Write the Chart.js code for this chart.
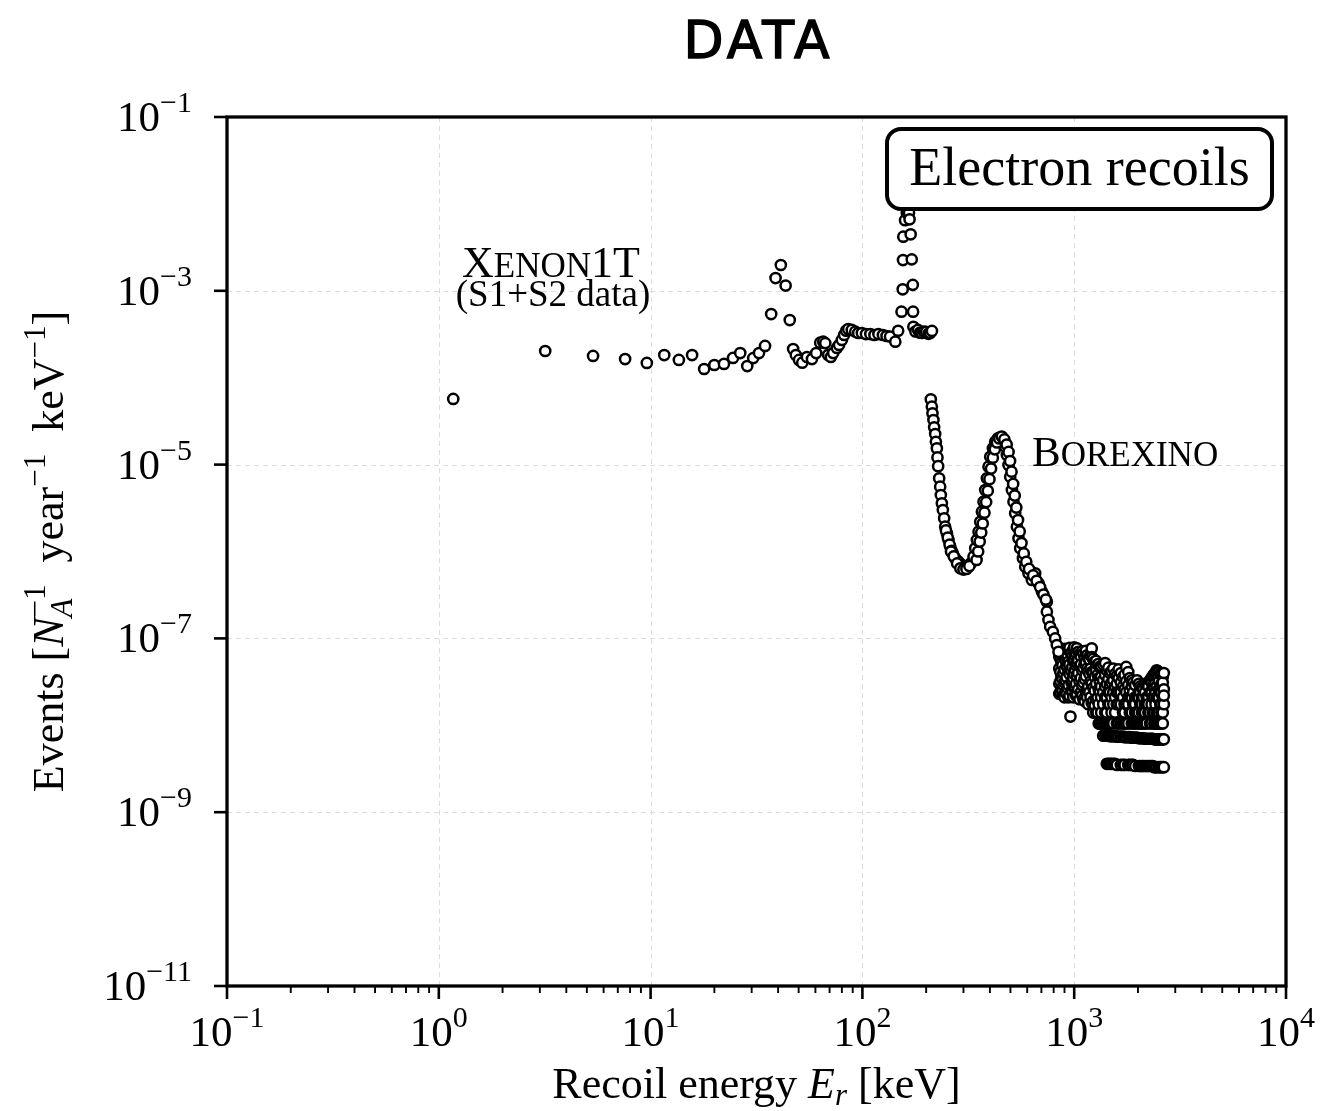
<!DOCTYPE html>
<html>
<head>
<meta charset="utf-8">
<script src="https://cdn.jsdelivr.net/npm/chart.js@4.4.0/dist/chart.umd.min.js"></script>
<style>
  html, body { margin: 0; padding: 0; background: #fff; }
</style>
</head>
<body>
<canvas id="spectrum" width="1322" height="1111"></canvas>
<script>
// XENON1T electron recoil spectrum (keV, events / N_A / year / keV)
const xenonE = [1.17, 3.18, 5.35, 7.58, 9.6, 11.6, 13.6, 15.7, 17.9, 20.0, 22.2, 24.5, 26.5, 28.6, 30.5,
    32.5, 34.7, 37.1, 38.9, 41.2, 43.4, 45.4, 47.1, 48.5, 50.2, 52.0, 54.7, 57.8, 60.5, 63.2, 65.3, 66.8,
    68.9, 71.0, 72.8, 75.8, 77.6, 80.0, 82.0, 83.8, 85.7, 89.1, 92.5, 95.5, 99.4, 104, 109, 114, 119, 125,
    130, 135, 143, 147.5, 153, 155, 155.5, 156, 159, 162, 164, 166, 167, 169, 171, 173, 173.5, 174, 178,
    183, 187, 191, 195, 200, 205, 209, 213];
const xenonRate = [5.7e-5, 2.03e-4, 1.78e-4, 1.64e-4, 1.48e-4, 1.82e-4, 1.60e-4, 1.82e-4, 1.26e-4, 1.40e-4,
    1.44e-4, 1.69e-4, 1.92e-4, 1.36e-4, 1.68e-4, 1.92e-4, 2.32e-4, 5.4e-4, 1.40e-3, 1.98e-3, 1.15e-3, 4.6e-4,
    2.14e-4, 1.82e-4, 1.60e-4, 1.49e-4, 1.73e-4, 1.64e-4, 1.92e-4, 2.53e-4, 2.60e-4, 2.50e-4, 1.82e-4, 1.73e-4,
    1.92e-4, 2.20e-4, 2.38e-4, 2.72e-4, 3.10e-4, 3.47e-4, 3.63e-4, 3.55e-4, 3.39e-4, 3.27e-4, 3.27e-4, 3.18e-4,
    3.18e-4, 3.10e-4, 3.18e-4, 3.10e-4, 3.02e-4, 2.97e-4, 2.60e-4, 3.47e-4, 5.75e-4, 1.04e-3, 2.26e-3, 4.2e-3,
    6.5e-3, 7.9e-3, 1.1e-2, 7.9e-3, 6.65e-3, 4.47e-3, 2.3e-3, 1.17e-3, 5.75e-4, 3.86e-4, 3.4e-4, 3.55e-4,
    3.3e-4, 3.27e-4, 3.4e-4, 3.36e-4, 3.2e-4, 3.27e-4, 3.45e-4];

// Borexino spectrum, main curve
const borexinoE = [210.4, 212.8, 214.2, 216.5, 218.2, 220.6, 222.3, 224.7, 226.2, 227.9, 230.4, 232.9, 234.6,
    237.2, 239.8, 243.2, 245.9, 250.5, 255.0, 259.7, 267.4, 274.2, 284.2, 295.0, 305.6, 316.8, 325.3, 334.6,
    340.9, 347.2, 353.4, 359.9, 366.6, 373.1, 380.0, 387.1, 393.9, 401.2, 413.1, 423.6, 436.2, 447.2, 460.5,
    472.2, 481.0, 489.5, 498.6, 507.9, 516.8, 526.5, 536.3, 545.7, 555.9, 572.5, 587.0, 608.4, 631.2, 654.4,
    678.4, 704.1, 743.1, 743, 756, 770, 793, 813, 828, 843];
const borexinoRate = [5.64e-5, 4.64e-5, 3.89e-5, 3.26e-5, 2.69e-5, 2.25e-5, 1.83e-5, 1.54e-5, 1.21e-5, 9.6e-6,
    6.96e-6, 5.57e-6, 4.47e-6, 3.59e-6, 3.0e-6, 2.41e-6, 1.93e-6, 1.62e-6, 1.36e-6, 1.14e-6, 9.5e-7, 8.35e-7,
    7.63e-7, 7.0e-7, 6.69e-7, 6.69e-7, 7.31e-7, 8.71e-7, 1.09e-6, 1.36e-6, 1.69e-6, 2.2e-6, 2.87e-6, 3.74e-6,
    5.1e-6, 6.96e-6, 9.46e-6, 1.23e-5, 1.54e-5, 1.83e-5, 2.01e-5, 2.06e-5, 1.92e-5, 1.61e-5, 1.29e-5, 9.9e-6,
    7.26e-6, 5.1e-6, 3.74e-6, 2.75e-6, 1.93e-6, 1.42e-6, 1.09e-6, 8.35e-7, 6.69e-7, 5.61e-7, 4.7e-7, 5.61e-7,
    4.3e-7, 3.45e-7, 2.64e-7, 2.03e-7, 1.63e-7, 1.36e-7, 1.19e-7, 1.0e-7, 8.4e-8, 7.0e-8];

// Borexino, overlapping points that thicken the band
const borexinoBandE = [248, 253, 258, 264, 262, 270, 280, 290, 300, 310, 320, 346, 352, 358, 364, 370, 377,
    384, 391, 398, 405, 413, 422, 432, 443, 455, 468, 480, 490, 498, 506, 515, 524, 533, 543, 553, 564, 578,
    594, 612, 640, 665, 690, 716, 735];
const borexinoBandRate = [1.75e-6, 1.45e-6, 1.2e-6, 1.02e-6, 1.0e-6, 8.8e-7, 7.3e-7, 6.4e-7, 6.2e-7, 6.3e-7,
    6.8e-7, 8.0e-7, 1.0e-6, 1.3e-6, 1.65e-6, 2.1e-6, 2.8e-6, 3.7e-6, 5.0e-6, 6.8e-6, 9.0e-6, 1.2e-5, 1.5e-5,
    1.8e-5, 2.0e-5, 2.1e-5, 1.95e-5, 1.7e-5, 1.4e-5, 1.1e-5, 8.3e-6, 6.0e-6, 4.4e-6, 3.2e-6, 2.3e-6, 1.7e-6,
    1.25e-6, 9.5e-7, 7.6e-7, 6.3e-7, 5.3e-7, 4.6e-7, 3.9e-7, 3.2e-7, 2.8e-7];

// Borexino high-energy tail: rates seen in each energy bin
const tailE = [850, 860, 870, 880, 890, 900, 910, 920, 930, 940, 950, 960, 970, 980, 990, 1000, 1010, 1020,
    1030, 1045, 1060, 1075, 1090, 1105, 1120, 1135, 1150, 1165, 1180, 1195, 1210, 1230, 1250, 1270, 1290,
    1305, 1320, 1340, 1370, 1400, 1425, 1450, 1475, 1500, 1530, 1560, 1590, 1620, 1660, 1700, 1730, 1760,
    1800, 1830, 1870, 1900, 1940, 1980, 2020, 2050, 2090, 2120, 2160, 2200, 2240, 2280, 2320, 2350, 2390,
    2420, 2450, 2480, 2510, 2550, 2580, 2620, 2650];
const tailRates = [
    [6.2e-8, 4.5e-8, 3.0e-8, 2.3e-8],
    [7.0e-8, 5.8e-8, 4.1e-8, 3.2e-8, 2.4e-8],
    [7.5e-8, 5.3e-8, 3.6e-8, 2.6e-8],
    [6.4e-8, 4.9e-8, 3.4e-8, 2.5e-8],
    [6.8e-8, 4.0e-8, 2.9e-8, 2.2e-8],
    [7.6e-8, 5.9e-8, 4.4e-8, 3.1e-8, 2.1e-8],
    [7.2e-8, 5.6e-8, 3.3e-8, 2.4e-8],
    [6.1e-8, 4.8e-8, 3.6e-8, 2.3e-8],
    [6.5e-8, 4.6e-8, 2.7e-8],
    [7.3e-8, 5.4e-8, 4.1e-8, 2.9e-8, 2.1e-8],
    [7.8e-8, 5.0e-8, 3.9e-8, 2.2e-8],
    [1.26e-8],
    [6.9e-8, 4.2e-8, 3.1e-8, 2.5e-8],
    [6.2e-8, 4.7e-8, 3.3e-8, 2.4e-8],
    [7.4e-8, 5.5e-8, 3.5e-8, 2.1e-8],
    [7.9e-8, 5.8e-8, 3.9e-8, 2.7e-8],
    [6.3e-8, 4.4e-8, 2.8e-8],
    [6.8e-8, 4.9e-8, 3.0e-8, 2.2e-8],
    [7.7e-8, 5.2e-8, 3.7e-8, 2.3e-8],
    [7.0e-8, 5.6e-8, 4.0e-8, 2.6e-8],
    [6.6e-8, 4.8e-8, 3.2e-8, 2.0e-8],
    [6.2e-8, 5.0e-8, 3.5e-8, 2.4e-8],
    [7.1e-8, 4.3e-8, 2.9e-8, 2.2e-8],
    [6.7e-8, 4.6e-8, 3.1e-8, 2.0e-8],
    [6.0e-8, 5.1e-8, 3.4e-8, 1.9e-8],
    [7.2e-8, 5.3e-8, 3.7e-8, 2.4e-8],
    [6.4e-8, 4.5e-8, 2.6e-8, 2.1e-8],
    [5.9e-8, 4.2e-8, 2.8e-8, 1.75e-8],
    [5.7e-8, 3.9e-8, 2.4e-8],
    [6.5e-8, 4.5e-8, 3.2e-8, 2.1e-8],
    [7.7e-8, 6.1e-8, 4.1e-8, 3.0e-8, 1.8e-8],
    [5.8e-8, 4.0e-8, 2.7e-8, 1.9e-8, 1.4e-8],
    [5.4e-8, 3.6e-8, 2.5e-8, 1.7e-8],
    [5.5e-8, 4.3e-8, 3.0e-8, 2.0e-8, 1.4e-8],
    [5.0e-8, 3.8e-8, 2.1e-8, 1.4e-8],
    [5.1e-8, 3.5e-8, 2.6e-8, 1.75e-8, 1.05e-8],
    [4.7e-8, 3.2e-8, 2.4e-8, 1.05e-8],
    [4.8e-8, 3.6e-8, 2.8e-8, 2.1e-8, 1.4e-8, 1.05e-8],
    [5.0e-8, 3.3e-8, 2.4e-8, 1.75e-8, 1.05e-8, 7.6e-9],
    [5.2e-8, 3.8e-8, 2.8e-8, 2.1e-8, 1.4e-8, 1.05e-8, 7.6e-9],
    [4.3e-8, 3.0e-8, 2.1e-8, 1.4e-8, 1.05e-8, 7.6e-9, 3.6e-9],
    [4.6e-8, 3.4e-8, 2.4e-8, 1.75e-8, 1.05e-8, 7.6e-9, 3.6e-9],
    [4.0e-8, 2.9e-8, 2.4e-8, 1.75e-8, 1.05e-8, 7.5e-9, 3.6e-9],
    [4.2e-8, 3.1e-8, 2.1e-8, 1.4e-8, 1.05e-8, 7.5e-9, 3.6e-9],
    [4.5e-8, 3.3e-8, 2.4e-8, 1.75e-8, 1.05e-8, 7.5e-9, 3.6e-9],
    [3.9e-8, 2.8e-8, 2.1e-8, 1.4e-8, 7.5e-9, 3.6e-9],
    [3.7e-8, 3.0e-8, 2.4e-8, 1.75e-8, 1.05e-8, 7.4e-9, 3.5e-9],
    [4.4e-8, 3.5e-8, 2.4e-8, 1.75e-8, 1.05e-8, 7.4e-9],
    [4.0e-8, 3.1e-8, 2.4e-8, 1.75e-8, 1.05e-8, 7.4e-9, 3.5e-9],
    [3.6e-8, 2.8e-8, 2.1e-8, 1.4e-8, 1.05e-8, 7.4e-9, 3.5e-9],
    [3.8e-8, 2.6e-8, 1.75e-8, 1.4e-8, 1.05e-8, 7.3e-9, 3.5e-9],
    [4.7e-8, 3.2e-8, 2.4e-8, 1.75e-8, 1.05e-8, 7.3e-9],
    [4.1e-8, 2.9e-8, 2.1e-8, 1.75e-8, 1.05e-8, 7.3e-9, 3.5e-9],
    [3.5e-8, 2.5e-8, 2.1e-8, 1.4e-8, 7.3e-9, 3.5e-9],
    [3.3e-8, 2.8e-8, 2.1e-8, 1.4e-8, 1.05e-8, 7.2e-9, 3.5e-9],
    [3.1e-8, 2.4e-8, 1.75e-8, 1.05e-8, 7.2e-9, 3.5e-9],
    [2.9e-8, 2.1e-8, 1.75e-8, 1.4e-8, 1.05e-8, 7.2e-9, 3.4e-9],
    [3.3e-8, 2.1e-8, 1.4e-8, 1.05e-8, 7.2e-9],
    [3.0e-8, 2.4e-8, 2.1e-8, 1.4e-8, 1.05e-8, 7.1e-9, 3.4e-9],
    [2.8e-8, 2.4e-8, 1.75e-8, 1.05e-8, 7.1e-9, 3.4e-9],
    [2.7e-8, 2.1e-8, 1.75e-8, 1.4e-8, 1.05e-8, 7.1e-9, 3.4e-9],
    [2.6e-8, 2.1e-8, 1.4e-8, 1.05e-8, 7.1e-9, 3.4e-9],
    [3.0e-8, 2.4e-8, 1.75e-8, 1.4e-8, 1.05e-8, 7.0e-9, 3.4e-9],
    [2.9e-8, 2.1e-8, 1.75e-8, 1.05e-8, 7.0e-9, 3.4e-9],
    [3.1e-8, 2.8e-8, 2.1e-8, 1.75e-8, 1.4e-8, 7.0e-9, 3.4e-9],
    [3.3e-8, 2.4e-8, 1.4e-8, 1.05e-8, 7.0e-9, 3.4e-9],
    [3.5e-8, 3.1e-8, 2.4e-8, 1.75e-8, 1.05e-8, 7.0e-9, 3.4e-9],
    [3.7e-8, 2.8e-8, 2.1e-8, 1.4e-8, 7.0e-9, 3.4e-9],
    [3.9e-8, 3.3e-8, 2.8e-8, 2.1e-8, 1.4e-8, 1.05e-8, 6.9e-9, 3.3e-9],
    [4.0e-8, 3.1e-8, 2.4e-8, 1.75e-8, 1.05e-8, 6.9e-9, 3.3e-9],
    [4.3e-8, 3.7e-8, 2.8e-8, 2.1e-8, 1.4e-8, 1.05e-8, 6.9e-9, 3.3e-9],
    [4.2e-8, 3.5e-8, 2.1e-8, 1.4e-8, 1.05e-8, 6.9e-9],
    [4.1e-8, 3.2e-8, 2.6e-8, 2.1e-8, 1.4e-8, 1.05e-8, 6.9e-9, 3.3e-9],
    [3.9e-8, 2.8e-8, 2.4e-8, 1.75e-8, 1.05e-8, 6.9e-9, 3.3e-9],
    [3.8e-8, 3.0e-8, 2.4e-8, 1.75e-8, 1.4e-8, 1.05e-8, 6.9e-9, 3.3e-9],
    [3.6e-8, 3.1e-8, 2.1e-8, 1.4e-8, 1.05e-8, 6.9e-9, 3.3e-9],
    [4.0e-8, 2.6e-8, 1.75e-8, 2.2e-8, 6.9e-9, 3.3e-9]
];

// axes
const xMajor = [0.1, 1, 10, 100, 1000, 10000];
const xMajorExp = ['\u22121', '0', '1', '2', '3', '4'];
const yMajor = [1e-11, 1e-9, 1e-7, 1e-5, 1e-3, 1e-1];
const yMajorExp = ['\u221211', '\u22129', '\u22127', '\u22125', '\u22123', '\u22121'];

const SERIF = '"Liberation Serif", "DejaVu Serif", serif';
const font = (size, style) => (style || '') + ' ' + size + 'px ' + SERIF;

const zip = (xs, ys) => xs.map((x, i) => ({x: x, y: ys[i]}));
const tailPoints = [];
tailE.forEach((e, i) => tailRates[i].forEach(r => tailPoints.push({x: e, y: r})));

const marker = {
    showLine: false,
    pointStyle: 'circle',
    pointRadius: 5.1,
    pointBorderWidth: 2.5,
    pointBackgroundColor: '#ffffff',
    pointBorderColor: '#000000'
};

// draw a row of text runs (for super/subscripts); hold = next run starts at same x
function runsWidth(ctx, runs) {
    let w = 0, held = 0;
    runs.forEach(r => {
        ctx.font = r.font;
        const rw = ctx.measureText(r.text).width;
        if (r.hold) held = rw; else { w += Math.max(rw, held); held = 0; }
    });
    return w;
}
function drawRuns(ctx, runs, x, y) {
    let held = 0;
    runs.forEach(r => {
        ctx.font = r.font;
        const rw = ctx.measureText(r.text).width;
        ctx.fillText(r.text, x, y + (r.dy || 0));
        if (r.hold) held = rw; else { x += Math.max(rw, held); held = 0; }
    });
}
function pow10(exp) {
    return [{font: font(43), text: '10'}, {font: font(30), text: exp, dy: -19}];
}

const decor = {
    id: 'decor',
    beforeDatasetsDraw(chart) {
        const {ctx, chartArea: a, scales: {x, y}} = chart;
        ctx.save();
        ctx.strokeStyle = '#dddddd';
        ctx.lineWidth = 1;
        ctx.setLineDash([5, 4]);
        xMajor.forEach(v => {
            const p = Math.round(x.getPixelForValue(v)) + 0.5;
            ctx.beginPath(); ctx.moveTo(p, a.top); ctx.lineTo(p, a.bottom); ctx.stroke();
        });
        yMajor.forEach(v => {
            const p = Math.round(y.getPixelForValue(v)) + 0.5;
            ctx.beginPath(); ctx.moveTo(a.left, p); ctx.lineTo(a.right, p); ctx.stroke();
        });
        ctx.restore();
    },
    afterDatasetsDraw(chart) {
        const {ctx, chartArea: a, scales: {x, y}} = chart;
        ctx.save();
        ctx.fillStyle = '#000';
        ctx.strokeStyle = '#000';
        ctx.textAlign = 'left';
        ctx.textBaseline = 'alphabetic';

        // annotation box
        const bx = 887, by = 129, bw = 385, bh = 80;
        ctx.beginPath();
        ctx.roundRect(bx, by, bw, bh, 14);
        ctx.fillStyle = '#fff';
        ctx.fill();
        ctx.lineWidth = 4;
        ctx.stroke();
        ctx.fillStyle = '#000';
        ctx.font = font(54);
        ctx.textAlign = 'center';
        ctx.fillText('Electron recoils', bx + bw / 2, by + 56);
        ctx.textAlign = 'left';

        // XENON1T label (small caps)
        const xen = [{font: font(44), text: 'X'}, {font: font(35), text: 'ENON'}, {font: font(44), text: '1T'}];
        drawRuns(ctx, xen, 551 - runsWidth(ctx, xen) / 2, 277);
        ctx.font = font(37);
        ctx.textAlign = 'center';
        ctx.fillText('(S1+S2 data)', 553, 306);
        ctx.textAlign = 'left';

        const bor = [{font: font(43), text: 'B'}, {font: font(35), text: 'OREXINO'}];
        drawRuns(ctx, bor, 1032, 466);

        // frame
        ctx.lineWidth = 3.3;
        ctx.strokeRect(a.left, a.top, a.right - a.left, a.bottom - a.top);

        // x ticks
        for (let k = 0; k < xMajor.length; k++) {
            const px = x.getPixelForValue(xMajor[k]);
            ctx.lineWidth = 2.6;
            ctx.beginPath(); ctx.moveTo(px, a.bottom); ctx.lineTo(px, a.bottom + 13); ctx.stroke();
            const runs = pow10(xMajorExp[k]);
            drawRuns(ctx, runs, px - runsWidth(ctx, runs) / 2, a.bottom + 60);
            if (k < xMajor.length - 1) {
                ctx.lineWidth = 1.9;
                for (let m = 2; m <= 9; m++) {
                    const mp = x.getPixelForValue(xMajor[k] * m);
                    ctx.beginPath(); ctx.moveTo(mp, a.bottom); ctx.lineTo(mp, a.bottom + 7); ctx.stroke();
                }
            }
        }
        // y ticks
        ctx.lineWidth = 2.6;
        for (let k = 0; k < yMajor.length; k++) {
            const py = y.getPixelForValue(yMajor[k]);
            ctx.beginPath(); ctx.moveTo(a.left, py); ctx.lineTo(a.left - 13, py); ctx.stroke();
            const runs = pow10(yMajorExp[k]);
            drawRuns(ctx, runs, a.left - 35 - runsWidth(ctx, runs), py + 14);
        }

        // axis titles
        const xt = [
            {font: font(44), text: 'Recoil energy '},
            {font: font(44, 'italic'), text: 'E'},
            {font: font(31, 'italic'), text: 'r', dy: 7},
            {font: font(44), text: ' [keV]'}
        ];
        drawRuns(ctx, xt, (a.left + a.right) / 2 - runsWidth(ctx, xt) / 2, 1098);

        const yt = [
            {font: font(44), text: 'Events ['},
            {font: font(44, 'italic'), text: 'N'},
            {font: font(31, 'italic'), text: 'A', dy: 9, hold: true},
            {font: font(31), text: '\u22121', dy: -18},
            {font: font(44), text: '  year'},
            {font: font(31), text: '\u22121', dy: -18},
            {font: font(44), text: '  keV'},
            {font: font(31), text: '\u22121', dy: -18},
            {font: font(44), text: ']'}
        ];
        ctx.save();
        ctx.translate(63, (a.top + a.bottom) / 2);
        ctx.rotate(-Math.PI / 2);
        drawRuns(ctx, yt, -runsWidth(ctx, yt) / 2, 0);
        ctx.restore();

        // title
        ctx.font = '52px "DejaVu Sans", sans-serif';
        ctx.letterSpacing = '4px';
        ctx.textAlign = 'center';
        ctx.lineWidth = 1.4;
        ctx.fillText('DATA', (a.left + a.right) / 2 + 2, 58);
        ctx.strokeText('DATA', (a.left + a.right) / 2 + 2, 58);
        ctx.restore();
    }
};

new Chart(document.getElementById('spectrum'), {
    type: 'scatter',
    data: {
        datasets: [
            Object.assign({label: 'XENON1T', data: zip(xenonE, xenonRate)}, marker),
            Object.assign({label: 'Borexino band', data: zip(borexinoBandE, borexinoBandRate)}, marker),
            Object.assign({label: 'Borexino', data: zip(borexinoE, borexinoRate)}, marker),
            Object.assign({label: 'Borexino tail', data: tailPoints}, marker)
        ]
    },
    options: {
        responsive: false,
        animation: false,
        devicePixelRatio: 1,
        layout: {padding: {top: 117, right: 36, left: 0, bottom: 0}},
        plugins: {legend: {display: false}, tooltip: {enabled: false}, title: {display: false}},
        scales: {
            x: {
                type: 'logarithmic', min: 0.1, max: 10000,
                grid: {display: false}, border: {display: false}, ticks: {display: false},
                afterFit: s => { s.height = 125; }
            },
            y: {
                type: 'logarithmic', min: 1e-11, max: 1e-1,
                grid: {display: false}, border: {display: false}, ticks: {display: false},
                afterFit: s => { s.width = 227; }
            }
        }
    },
    plugins: [decor]
});
</script>
</body>
</html>
